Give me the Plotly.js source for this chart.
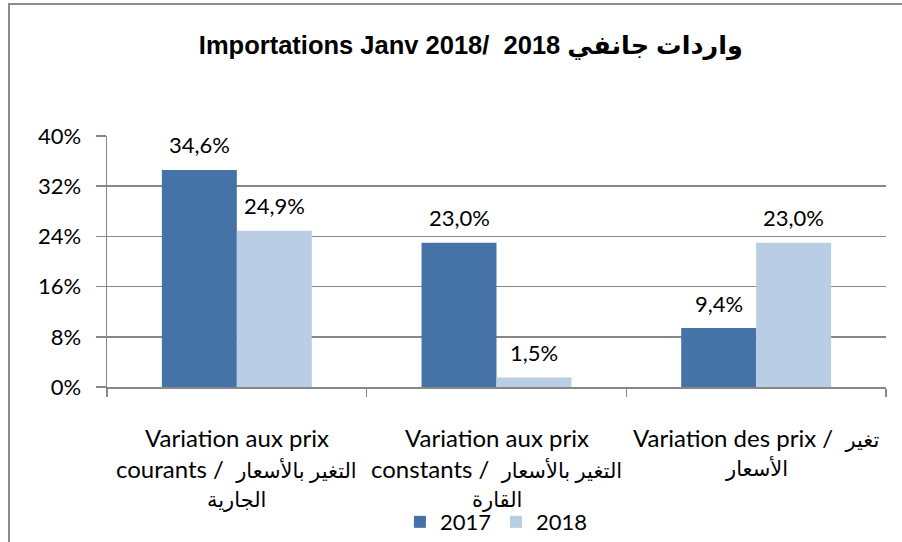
<!DOCTYPE html>
<html>
<head>
<meta charset="utf-8">
<script src="https://cdn.plot.ly/plotly-3.0.1.min.js"></script>
<style>
  html, body { margin: 0; padding: 0; background: #ffffff; }
  #wrap { position: relative; width: 902px; height: 542px; overflow: hidden; }
  #chart { position: absolute; left: 0; top: 0; width: 902px; height: 542px; }
  #frame { position: absolute; left: 8px; top: 3px; width: 1000px; height: 1000px;
           border-left: 2px solid #8c8c8c; border-top: 2px solid #8c8c8c; pointer-events: none; }
</style>
</head>
<body>
<div id="wrap">
  <div id="chart"></div>
  <div id="frame"></div>
</div>
<script>
// ---- data ----
const categories = [
  "Variation aux prix courants / التغير بالأسعار الجارية",
  "Variation aux prix constants / التغير بالأسعار القارة",
  "Variation des prix / تغير الأسعار"
];
const categoryLines = [
  ["Variation aux prix", "courants /  التغير بالأسعار", "الجارية"],
  ["Variation aux prix", "constants /  التغير بالأسعار", "القارة"],
  ["Variation des prix /  تغير", "الأسعار"]
];
const values2017 = [34.6, 23.0, 9.4];
const values2018 = [24.9, 1.5, 23.0];
const seriesNames = ["2017", "2018"];
const yTicks = [0, 8, 16, 24, 32, 40];
const titleText = "Importations Janv 2018/  2018 واردات جانفي";

// ---- style ----
const colors = ["#4673A7", "#B9CDE5"];
const baseFont = "Lato, 'DejaVu Sans', sans-serif";
const gridColor = "#878787";

function fmt(v) { return v.toFixed(1).replace('.', ',') + '%'; }
// render Arabic runs slightly smaller (fallback font is wider than the original)
function styleArabic(s) {
  return s.replace(/[\u0600-\u06FF][\u0600-\u06FF ]*[\u0600-\u06FF]|[\u0600-\u06FF]/g,
    m => '<span style="font-size:21px">' + m + '</span>');
}

const series = [values2017, values2018];
const traces = series.map((vals, i) => ({
  type: 'bar',
  name: seriesNames[i],
  x: categories,
  y: vals,
  marker: { color: colors[i], line: { width: 0 } },
  hoverinfo: 'none'
}));

const annotations = [];
// value labels
series.forEach((vals, i) => {
  vals.forEach((v, j) => {
    annotations.push({
      x: categories[j], y: v, xref: 'x', yref: 'y',
      text: fmt(v), showarrow: false,
      xshift: (i === 0 ? -37.5 : 37.5),
      yanchor: 'middle', yshift: 25,
      font: { family: baseFont, size: 22, color: '#000000' }
    });
  });
});
// category labels
categoryLines.forEach((lines, j) => {
  lines.forEach((ln, k) => {
    annotations.push({
      x: categories[j], y: 0, xref: 'x', yref: 'paper',
      text: styleArabic(ln), showarrow: false,
      yanchor: 'middle', yshift: -50 - 31 * k,
      font: { family: baseFont, size: 24, color: '#000000' }
    });
  });
});

const layout = {
  width: 902, height: 542,
  margin: { l: 107, r: 16, t: 136, b: 155, autoexpand: false },
  paper_bgcolor: '#ffffff', plot_bgcolor: '#ffffff',
  font: { family: baseFont, size: 22, color: '#000000' },
  title: {
    text: titleText,
    font: { family: "'Liberation Sans', Arial, 'DejaVu Sans', sans-serif", size: 25.5, color: '#000000', weight: 'bold' },
    xref: 'container', yref: 'container',
    x: 0.522, xanchor: 'center', y: 1 - 45 / 542, yanchor: 'middle'
  },
  barmode: 'group',
  bargap: 0.4226,
  bargroupgap: 0,
  showlegend: true,
  legend: {
    orientation: 'h',
    x: 0.376, xanchor: 'left',
    y: -0.538, yanchor: 'middle',
    font: { family: baseFont, size: 22, color: '#000000' },
    itemwidth: 30,
    traceorder: 'normal'
  },
  xaxis: {
    type: 'category',
    showticklabels: false,
    showgrid: false,
    showline: true, linecolor: gridColor, linewidth: 1.5,
    ticks: 'outside', tickson: 'boundaries', ticklen: 8, tickcolor: gridColor, tickwidth: 1.5,
    fixedrange: true
  },
  yaxis: {
    range: [0, 40],
    tickvals: yTicks,
    ticktext: yTicks.map(t => t + '%'),
    showgrid: true, gridcolor: gridColor, gridwidth: 1.5,
    showline: true, linecolor: gridColor, linewidth: 1.5,
    ticks: 'outside', ticklen: 10, tickcolor: gridColor, tickwidth: 1.5,
    ticklabelstandoff: 10,
    zeroline: false,
    tickfont: { family: baseFont, size: 22, color: '#000000' },
    fixedrange: true
  },
  annotations: annotations
};

Plotly.newPlot('chart', traces, layout, { displayModeBar: false, staticPlot: true });
</script>
</body>
</html>
